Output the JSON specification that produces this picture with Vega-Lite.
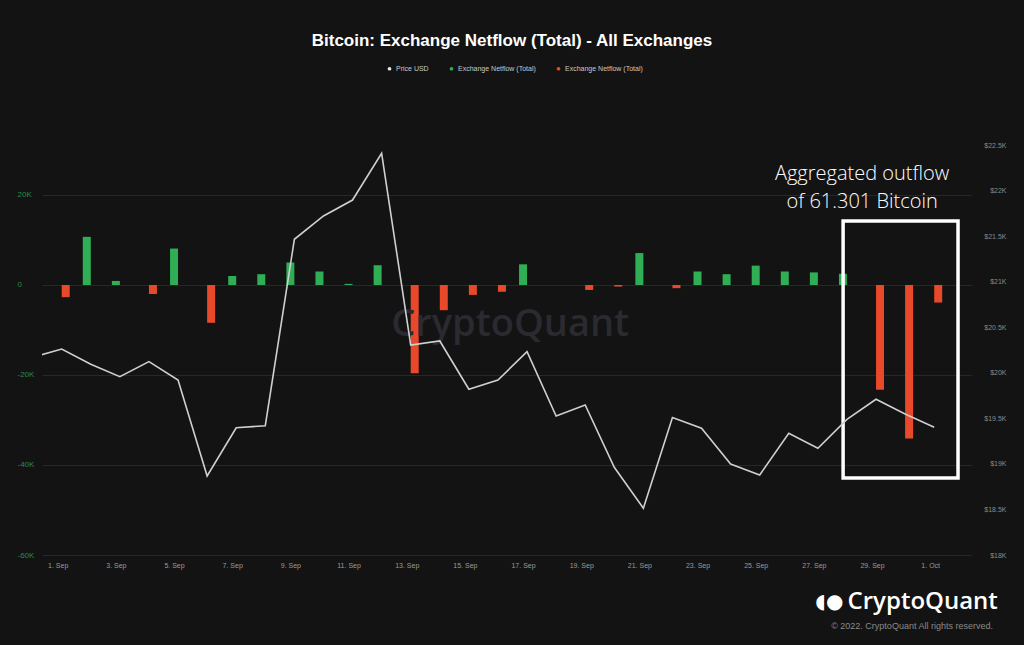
{
  "$schema": "https://vega.github.io/schema/vega-lite/v6.json",
  "width": 930,
  "height": 410,
  "autosize": {"type": "none"},
  "padding": {"left": 42, "top": 145, "right": 52, "bottom": 90},
  "background": "#131313",
  "title": {
    "text": "Bitcoin: Exchange Netflow (Total) - All Exchanges",
    "font": "Liberation Sans",
    "fontSize": 17,
    "fontWeight": "bold",
    "color": "#ffffff",
    "anchor": "middle",
    "frame": "group",
    "dx": 5,
    "offset": 15
  },
  "config": {
    "view": {"stroke": null},
    "font": "Liberation Sans",
    "axis": {"domain": false, "ticks": false, "title": null}
  },
  "datasets": {
    "flows": [
      {"date": "2022-09-01", "series": "Exchange Netflow (Total) ", "value": -2700},
      {"date": "2022-09-02", "series": "Exchange Netflow (Total)", "value": 10700},
      {"date": "2022-09-03", "series": "Exchange Netflow (Total)", "value": 900},
      {"date": "2022-09-04", "series": "Exchange Netflow (Total) ", "value": -2000},
      {"date": "2022-09-05", "series": "Exchange Netflow (Total)", "value": 8100},
      {"date": "2022-09-06", "series": "Exchange Netflow (Total) ", "value": -8400},
      {"date": "2022-09-07", "series": "Exchange Netflow (Total)", "value": 2000},
      {"date": "2022-09-08", "series": "Exchange Netflow (Total)", "value": 2400},
      {"date": "2022-09-09", "series": "Exchange Netflow (Total)", "value": 5000},
      {"date": "2022-09-10", "series": "Exchange Netflow (Total)", "value": 3000},
      {"date": "2022-09-11", "series": "Exchange Netflow (Total)", "value": 250},
      {"date": "2022-09-12", "series": "Exchange Netflow (Total)", "value": 4400},
      {"date": "2022-09-13", "series": "Exchange Netflow (Total) ", "value": -19600},
      {"date": "2022-09-14", "series": "Exchange Netflow (Total) ", "value": -5600},
      {"date": "2022-09-15", "series": "Exchange Netflow (Total) ", "value": -2200},
      {"date": "2022-09-16", "series": "Exchange Netflow (Total) ", "value": -1500},
      {"date": "2022-09-17", "series": "Exchange Netflow (Total)", "value": 4600},
      {"date": "2022-09-19", "series": "Exchange Netflow (Total) ", "value": -1100},
      {"date": "2022-09-20", "series": "Exchange Netflow (Total) ", "value": -350},
      {"date": "2022-09-21", "series": "Exchange Netflow (Total)", "value": 7100},
      {"date": "2022-09-22", "series": "Exchange Netflow (Total) ", "value": -700},
      {"date": "2022-09-23", "series": "Exchange Netflow (Total)", "value": 3000},
      {"date": "2022-09-24", "series": "Exchange Netflow (Total)", "value": 2400},
      {"date": "2022-09-25", "series": "Exchange Netflow (Total)", "value": 4300},
      {"date": "2022-09-26", "series": "Exchange Netflow (Total)", "value": 3000},
      {"date": "2022-09-27", "series": "Exchange Netflow (Total)", "value": 2800},
      {"date": "2022-09-28", "series": "Exchange Netflow (Total)", "value": 2500},
      {"date": "2022-09-29", "series": "Exchange Netflow (Total) ", "value": -23300},
      {"date": "2022-09-30", "series": "Exchange Netflow (Total) ", "value": -34100},
      {"date": "2022-10-01", "series": "Exchange Netflow (Total) ", "value": -3900}
    ],
    "price": [
      {"date": "2022-08-31", "price": 20170},
      {"date": "2022-09-01", "price": 20261},
      {"date": "2022-09-02", "price": 20093},
      {"date": "2022-09-03", "price": 19957},
      {"date": "2022-09-04", "price": 20122},
      {"date": "2022-09-05", "price": 19921},
      {"date": "2022-09-06", "price": 18867},
      {"date": "2022-09-07", "price": 19397},
      {"date": "2022-09-08", "price": 19419},
      {"date": "2022-09-09", "price": 21465},
      {"date": "2022-09-10", "price": 21721},
      {"date": "2022-09-11", "price": 21896},
      {"date": "2022-09-12", "price": 22409},
      {"date": "2022-09-13", "price": 20305},
      {"date": "2022-09-14", "price": 20349},
      {"date": "2022-09-15", "price": 19819},
      {"date": "2022-09-16", "price": 19921},
      {"date": "2022-09-17", "price": 20231},
      {"date": "2022-09-18", "price": 19526},
      {"date": "2022-09-19", "price": 19646},
      {"date": "2022-09-20", "price": 18963},
      {"date": "2022-09-21", "price": 18513},
      {"date": "2022-09-22", "price": 19509},
      {"date": "2022-09-23", "price": 19391},
      {"date": "2022-09-24", "price": 18999},
      {"date": "2022-09-25", "price": 18878},
      {"date": "2022-09-26", "price": 19336},
      {"date": "2022-09-27", "price": 19171},
      {"date": "2022-09-28", "price": 19489},
      {"date": "2022-09-29", "price": 19709},
      {"date": "2022-09-30", "price": 19548},
      {"date": "2022-10-01", "price": 19402}
    ],
    "box": [
      {"date": "2022-09-27T20:50:00Z", "end": "2022-10-01T19:40:00Z", "value": 14200, "bottom": -42900}
    ],
    "note": [
      {"date": "2022-09-28T12:30:00Z", "value": 26900, "text": "Aggregated outflow\nof 61.301 Bitcoin"}
    ],
    "watermark": [
      {"date": "2022-09-16T10:05:00Z", "value": -8900, "text": "CryptoQuant"}
    ],
    "logo": [
      {"date": "2022-09-30T14:30:00Z", "value": -70444, "text": "CryptoQuant"}
    ],
    "icon": [
      {"date": "2022-09-27T09:30:00Z", "value": -70444, "text": "◖●"}
    ],
    "copyright": [
      {"date": "2022-09-30T05:45:00Z", "value": -75778, "text": "© 2022. CryptoQuant All rights reserved."}
    ]
  },
  "encoding": {
    "x": {
      "field": "date",
      "type": "temporal",
      "scale": {
        "type": "utc",
        "padding": 0,
        "domain": [
          {"year": 2022, "month": "Aug", "date": 31, "hours": 7, "minutes": 44, "utc": true},
          {"year": 2022, "month": "Oct", "date": 2, "hours": 7, "minutes": 12, "utc": true}
        ]
      },
      "axis": {
        "values": [
          {"year": 2022, "month": "Sep", "date": 1, "utc": true},
          {"year": 2022, "month": "Sep", "date": 3, "utc": true},
          {"year": 2022, "month": "Sep", "date": 5, "utc": true},
          {"year": 2022, "month": "Sep", "date": 7, "utc": true},
          {"year": 2022, "month": "Sep", "date": 9, "utc": true},
          {"year": 2022, "month": "Sep", "date": 11, "utc": true},
          {"year": 2022, "month": "Sep", "date": 13, "utc": true},
          {"year": 2022, "month": "Sep", "date": 15, "utc": true},
          {"year": 2022, "month": "Sep", "date": 17, "utc": true},
          {"year": 2022, "month": "Sep", "date": 19, "utc": true},
          {"year": 2022, "month": "Sep", "date": 21, "utc": true},
          {"year": 2022, "month": "Sep", "date": 23, "utc": true},
          {"year": 2022, "month": "Sep", "date": 25, "utc": true},
          {"year": 2022, "month": "Sep", "date": 27, "utc": true},
          {"year": 2022, "month": "Sep", "date": 29, "utc": true},
          {"year": 2022, "month": "Oct", "date": 1, "utc": true}
        ],
        "labelExpr": "utcFormat(datum.value, '%-d. %b')",
        "labelColor": "#9a9a9a",
        "labelFontSize": 7,
        "labelPadding": 6,
        "labelOffset": -4,
        "grid": false
      }
    }
  },
  "layer": [
    {
      "encoding": {
        "y": {
          "field": "value",
          "type": "quantitative",
          "scale": {"domain": [-60000, 31111], "nice": false, "zero": false, "padding": 0},
          "axis": {
            "orient": "left",
            "values": [-60000, -40000, -20000, 0, 20000],
            "labelExpr": "datum.value == 0 ? '0' : (datum.value / 1000) + 'K'",
            "labelColor": "#2b8a4e",
            "labelFontSize": 8,
            "labelAlign": "left",
            "labelPadding": 25,
            "grid": true,
            "gridColor": "#272727",
            "gridWidth": 1
          }
        }
      },
      "layer": [
        {
          "data": {"name": "flows"},
          "transform": [{"filter": "datum.value > 0"}],
          "mark": {"type": "bar", "width": 8, "xOffset": -4},
          "encoding": {
            "y2": {"datum": 0},
            "color": {
              "field": "series",
              "type": "nominal",
              "scale": {
                "domain": ["Price USD", "Exchange Netflow (Total)", "Exchange Netflow (Total) "],
                "range": ["#e6e6e6", "#2fae55", "#e8492a"]
              },
              "legend": {
                "orient": "none",
                "legendX": 344,
                "legendY": -80,
                "direction": "horizontal",
                "title": null,
                "symbolType": "circle",
                "symbolSize": 14,
                "symbolStrokeWidth": 0,
                "labelFontSize": 7,
                "labelColor": "#c8c8c8",
                "labelOffset": 3,
                "columnPadding": 19,
                "padding": 0
              }
            }
          }
        },
        {
          "data": {"name": "flows"},
          "transform": [{"filter": "datum.value < 0"}],
          "mark": {"type": "bar", "width": 8, "xOffset": 4},
          "encoding": {
            "y2": {"datum": 0},
            "color": {"field": "series", "type": "nominal"}
          }
        },
        {
          "data": {"name": "box"},
          "mark": {"type": "rect", "filled": false, "stroke": "#ffffff", "strokeWidth": 3.5},
          "encoding": {
            "x2": {"field": "end"},
            "y2": {"field": "bottom"}
          }
        },
        {
          "data": {"name": "note"},
          "mark": {"type": "text", "font": "Open Sans", "fontWeight": 300, "fontSize": 20, "color": "#ffffff", "align": "center", "baseline": "top", "lineBreak": "\n", "lineHeight": 28},
          "encoding": {"text": {"field": "text"}}
        },
        {
          "data": {"name": "watermark"},
          "mark": {"type": "text", "font": "Open Sans", "fontWeight": 600, "fontSize": 38, "color": "#2a2a30", "align": "center", "baseline": "middle"},
          "encoding": {"text": {"field": "text"}}
        },
        {
          "data": {"name": "logo"},
          "mark": {"type": "text", "font": "Open Sans", "fontWeight": 600, "fontSize": 24, "color": "#ffffff", "align": "center", "baseline": "middle"},
          "encoding": {"text": {"field": "text"}}
        },
        {
          "data": {"name": "icon"},
          "mark": {"type": "text", "font": "DejaVu Sans", "fontSize": 20, "color": "#ffffff", "align": "center", "baseline": "middle"},
          "encoding": {"text": {"field": "text"}}
        },
        {
          "data": {"name": "copyright"},
          "mark": {"type": "text", "font": "Liberation Sans", "fontSize": 9, "color": "#8a8a8a", "align": "center", "baseline": "middle"},
          "encoding": {"text": {"field": "text"}}
        }
      ]
    },
    {
      "data": {"name": "price"},
      "mark": {"type": "line", "color": "#cfcfcf", "strokeWidth": 1.6, "clip": true},
      "encoding": {
        "y": {
          "field": "price",
          "type": "quantitative",
          "scale": {"domain": [18000, 22500], "nice": false, "zero": false, "padding": 0},
          "axis": {
            "orient": "right",
            "values": [18000, 18500, 19000, 19500, 20000, 20500, 21000, 21500, 22000, 22500],
            "labelExpr": "'$' + (datum.value / 1000) + 'K'",
            "labelColor": "#8a8a8a",
            "labelFontSize": 7,
            "labelAlign": "right",
            "labelPadding": 34,
            "grid": false
          }
        }
      }
    }
  ],
  "resolve": {"scale": {"y": "independent"}}
}
